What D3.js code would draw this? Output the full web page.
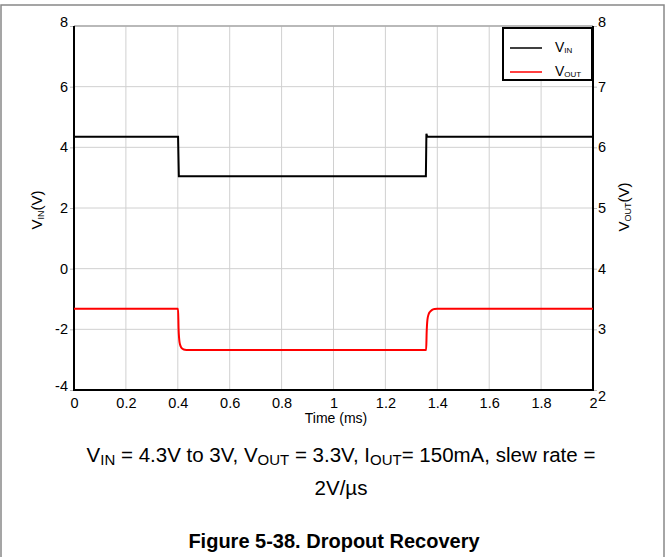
<!DOCTYPE html>
<html><head><meta charset="utf-8">
<script src="https://cdn.jsdelivr.net/npm/d3@7"></script>
<style>body{margin:0;background:#fff}svg{display:block;font-family:"Liberation Sans",Arial,sans-serif}</style>
</head><body>
<svg id="c" width="668" height="557"></svg>
<script>
const xTicks = [0,0.2,0.4,0.6,0.8,1,1.2,1.4,1.6,1.8,2];
const yLeftTicks = [-4,-2,0,2,4,6,8];
const yRightTicks = [2,3,4,5,6,7,8];
const vinTime = [0,0.401,0.404,1.356,1.358,1.361,1.364,2];
const vinVal  = [4.35,4.35,3.05,3.05,4.45,4.36,4.35,4.35];
const voutTime = [0,0.401,0.403,0.407,0.411,0.415,0.42,0.427,0.44,1.357,1.359,1.362,1.366,1.372,1.38,1.39,1.40,2];
const voutVal  = [3.34,3.34,3.0,2.78,2.72,2.69,2.675,2.665,2.66,2.66,2.95,3.16,3.24,3.29,3.32,3.335,3.34,3.34];

const svg = d3.select("#c");
const L=74,R=593,T=26,B=390;
const x = d3.scaleLinear().domain([0,2]).range([L,R]);
const yL = d3.scaleLinear().domain([-4,8]).range([B,T]);
const yR = d3.scaleLinear().domain([2,8]).range([B,T]);
const FONT = "Liberation Sans, Arial, sans-serif";

// outer frame
svg.append("rect").attr("x",1).attr("y",5).attr("width",663).attr("height",600)
  .attr("fill","none").attr("stroke","#888").attr("stroke-width",1.5);

// grid
const g = svg.append("g");
g.selectAll(".vx").data(xTicks).join("line").attr("x1",d=>x(d)).attr("x2",d=>x(d))
  .attr("y1",T).attr("y2",B).attr("stroke","#d0d0d0").attr("stroke-width",1);
g.selectAll(".hy").data(yLeftTicks).join("line").attr("x1",L).attr("x2",R)
  .attr("y1",d=>yL(d)).attr("y2",d=>yL(d)).attr("stroke","#d0d0d0").attr("stroke-width",1);

// axes
const fmt = d=>String(d);
const axB = svg.append("g").attr("transform",`translate(0,${B})`)
  .call(d3.axisBottom(x).tickValues(xTicks).tickFormat(fmt).tickSize(0).tickPadding(8));
const axL = svg.append("g").attr("transform",`translate(${L},0)`)
  .call(d3.axisLeft(yL).tickValues(yLeftTicks).tickFormat(fmt).tickSize(4).tickPadding(2));
const axR = svg.append("g").attr("transform",`translate(${R},0)`)
  .call(d3.axisRight(yR).tickValues(yRightTicks).tickFormat(fmt).tickSize(4).tickPadding(1));
[axB,axL,axR].forEach(a=>{
  a.attr("font-size",14.5).attr("font-family",FONT);
  a.select(".domain").remove();
  a.selectAll(".tick line").attr("stroke","#bbb");
  a.selectAll("text").attr("fill","#000");
});
axL.selectAll(".tick text").filter(d=>d===-4 || d===8).attr("dy","0.05em");
axR.selectAll(".tick text").filter(d=>d===2).attr("dy","0.75em");
axR.selectAll(".tick text").filter(d=>d===8).attr("dy","0.05em");

// frame lines
svg.append("line").attr("x1",L).attr("x2",R).attr("y1",T).attr("y2",T).attr("stroke","#aaa").attr("stroke-width",1.5);
svg.append("line").attr("x1",L).attr("x2",L).attr("y1",T).attr("y2",B+1).attr("stroke","#000").attr("stroke-width",2);
svg.append("line").attr("x1",R).attr("x2",R).attr("y1",T).attr("y2",B+1).attr("stroke","#000").attr("stroke-width",2);
svg.append("line").attr("x1",L-1).attr("x2",R+1).attr("y1",B).attr("y2",B).attr("stroke","#000").attr("stroke-width",2);

// series
const vin = vinTime.map((t,i)=>[t,vinVal[i]]);
const vout = voutTime.map((t,i)=>[t,voutVal[i]]);
svg.append("path").datum(vin).attr("fill","none").attr("stroke","#000").attr("stroke-width",2)
  .attr("d",d3.line().x(d=>x(d[0])).y(d=>yL(d[1])));
svg.append("path").datum(vout).attr("fill","none").attr("stroke","#f00").attr("stroke-width",2)
  .attr("d",d3.line().curve(d3.curveMonotoneX).x(d=>x(d[0])).y(d=>yR(d[1])));

// legend
const lg = svg.append("g").attr("font-family",FONT);
lg.append("rect").attr("x",503).attr("y",28).attr("width",89).attr("height",52)
  .attr("fill","#fff").attr("stroke","#000").attr("stroke-width",2);
lg.append("line").attr("x1",510).attr("x2",542).attr("y1",48).attr("y2",48).attr("stroke","#000").attr("stroke-width",1.5);
lg.append("line").attr("x1",510).attr("x2",542).attr("y1",72).attr("y2",72).attr("stroke","#f00").attr("stroke-width",1.5);
const t1 = lg.append("text").attr("x",555).attr("y",52).attr("font-size",14);
t1.append("tspan").text("V");
t1.append("tspan").attr("font-size",8).attr("dy",1).text("IN");
const t2 = lg.append("text").attr("x",555).attr("y",76).attr("font-size",14);
t2.append("tspan").text("V");
t2.append("tspan").attr("font-size",8).attr("dy",1).text("OUT");

// axis labels
const yl = svg.append("text").attr("transform","translate(42,210) rotate(-90)").attr("text-anchor","middle").attr("font-size",15);
yl.append("tspan").text("V");
yl.append("tspan").attr("font-size",9).attr("dy",2).text("IN");
yl.append("tspan").attr("dy",-2).text("(V)");
const yr = svg.append("text").attr("transform","translate(629,207) rotate(-90)").attr("text-anchor","middle").attr("font-size",15);
yr.append("tspan").text("V");
yr.append("tspan").attr("font-size",9).attr("dy",2).text("OUT");
yr.append("tspan").attr("dy",-2).text("(V)");
svg.append("text").attr("x",336).attr("y",423).attr("text-anchor","middle").attr("font-size",14).text("Time (ms)");

// caption
const cap = svg.append("text").attr("x",341).attr("y",462).attr("text-anchor","middle").attr("font-size",20.5);
cap.append("tspan").text("V");
cap.append("tspan").attr("font-size",15).attr("dy",3).text("IN");
cap.append("tspan").attr("dy",-3).text(" = 4.3V to 3V, V");
cap.append("tspan").attr("font-size",15).attr("dy",3).text("OUT");
cap.append("tspan").attr("dy",-3).text(" = 3.3V, I");
cap.append("tspan").attr("font-size",15).attr("dy",3).text("OUT");
cap.append("tspan").attr("dy",-3).text("= 150mA, slew rate =");
svg.append("text").attr("x",341).attr("y",495).attr("text-anchor","middle").attr("font-size",20.5).text("2V/µs");
svg.append("text").attr("x",334).attr("y",548).attr("text-anchor","middle").attr("font-size",20).attr("font-weight","bold").text("Figure 5-38. Dropout Recovery");
</script>
</body></html>
